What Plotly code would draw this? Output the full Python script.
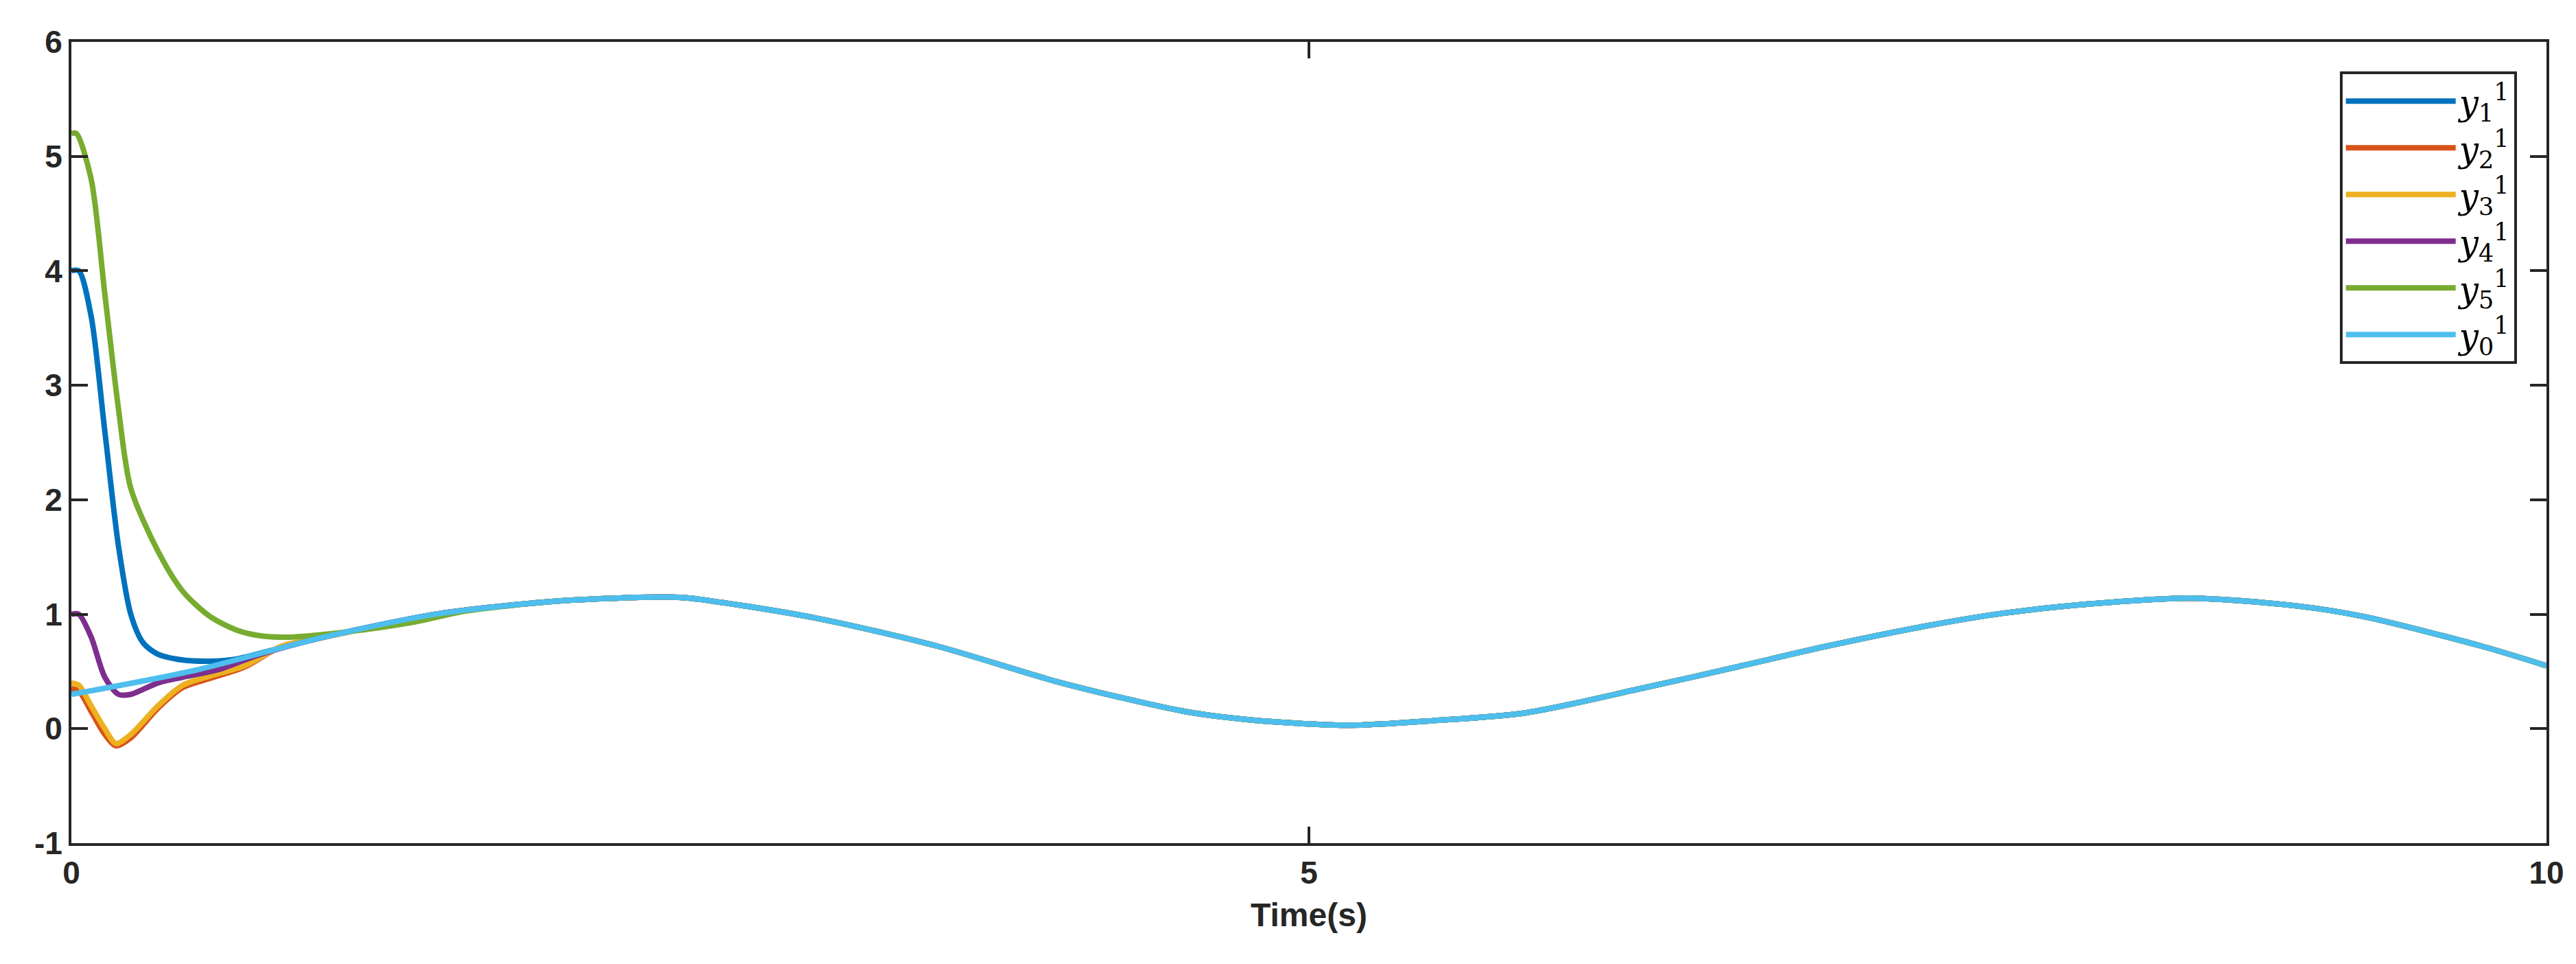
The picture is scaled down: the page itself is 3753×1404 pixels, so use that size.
import plotly.graph_objects as go

# reference trajectory y0
t0 = [0, 0.5, 1.0, 1.5, 2.0, 2.4, 2.5, 3.0, 3.5, 4.0, 4.5, 4.75, 5.15, 5.5, 5.88, 6.36, 6.73, 7.09, 7.5, 7.81, 8.1, 8.56, 9.0, 9.26, 9.74, 10.0]
y0 = [0.30, 0.51, 0.79, 1.01, 1.12, 1.15, 1.14, 0.97, 0.72, 0.40, 0.15, 0.08, 0.03, 0.07, 0.14, 0.36, 0.54, 0.72, 0.90, 1.01, 1.08, 1.14, 1.07, 0.98, 0.72, 0.55]

# transients (before merging with y0)
t1 = [0, 0.03, 0.08, 0.135, 0.19, 0.24, 0.29, 0.35, 0.45, 0.56, 0.67, 0.8]
y1 = [4.0, 4.0, 3.6, 2.6, 1.6, 1.0, 0.75, 0.65, 0.6, 0.59, 0.61, 0.68]
t2 = [0, 0.03, 0.08, 0.135, 0.18, 0.24, 0.35, 0.45, 0.56, 0.7, 0.85]
y2 = [0.35, 0.33, 0.15, -0.05, -0.15, -0.08, 0.18, 0.36, 0.44, 0.54, 0.72]
t3 = [0, 0.03, 0.08, 0.135, 0.18, 0.24, 0.35, 0.45, 0.56, 0.7, 0.85]
y3 = [0.4, 0.38, 0.2, 0.0, -0.13, -0.05, 0.2, 0.38, 0.46, 0.55, 0.72]
t4 = [0, 0.03, 0.08, 0.135, 0.19, 0.24, 0.35, 0.45, 0.6, 0.75]
y4 = [1.0, 1.0, 0.8, 0.45, 0.3, 0.3, 0.4, 0.45, 0.52, 0.64]
t5 = [0, 0.02, 0.08, 0.135, 0.19, 0.24, 0.35, 0.45, 0.56, 0.67, 0.77, 0.88, 1.09, 1.38, 1.6]
y5 = [5.2, 5.2, 4.8, 3.8, 2.8, 2.1, 1.55, 1.2, 0.98, 0.86, 0.81, 0.8, 0.84, 0.93, 1.03]

names = ["<i>y</i><sub>1</sub><sup>1</sup>", "<i>y</i><sub>2</sub><sup>1</sup>", "<i>y</i><sub>3</sub><sup>1</sup>",
         "<i>y</i><sub>4</sub><sup>1</sup>", "<i>y</i><sub>5</sub><sup>1</sup>", "<i>y</i><sub>0</sub><sup>1</sup>"]
colors = ["#0072BD", "#D95319", "#EDB120", "#7E2F8E", "#77AC30", "#4DBEEE"]

fig = go.Figure()
for (tt, yy), name, c in zip([(t1, y1), (t2, y2), (t3, y3), (t4, y4), (t5, y5)], names[:5], colors[:5]):
    xs = list(tt) + [a for a in t0 if a > tt[-1] + 0.1]
    ys = list(yy) + [b for a, b in zip(t0, y0) if a > tt[-1] + 0.1]
    fig.add_trace(go.Scatter(x=xs, y=ys, mode="lines", name=name,
                             line=dict(color=c, width=8, shape="spline", smoothing=0.8)))
fig.add_trace(go.Scatter(x=t0, y=y0, mode="lines", name=names[5],
                         line=dict(color=colors[5], width=8, shape="spline", smoothing=0.8)))

axis_common = dict(showline=True, linecolor="#262626", linewidth=4, mirror="ticks",
                   ticks="inside", ticklen=24, tickwidth=4, tickcolor="#262626",
                   showgrid=False, zeroline=False,
                   tickfont=dict(family="Liberation Sans", size=46, color="#262626"))
fig.update_xaxes(range=[0, 10], tickvals=[0, 5, 10], ticktext=["<b>0</b>", "<b>5</b>", "<b>10</b>"],
                 title=dict(text="<b>Time(s)</b>", font=dict(family="Liberation Sans", size=48, color="#262626"), standoff=20),
                 **axis_common)
fig.update_yaxes(range=[-1, 6], tickvals=list(range(-1, 7)),
                 ticktext=[f"<b>{v}</b>" for v in range(-1, 7)], **axis_common)
fig.update_layout(
    width=3753, height=1404, plot_bgcolor="white", paper_bgcolor="white",
    margin=dict(l=96, r=51, t=53, b=184),
    legend=dict(x=0.988, y=0.963, xanchor="right", yanchor="top", bgcolor="white",
                bordercolor="#262626", borderwidth=4, tracegroupgap=0,
                font=dict(family="DejaVu Serif", size=50, color="black"), itemwidth=160),
)
fig.write_html("out.html")
